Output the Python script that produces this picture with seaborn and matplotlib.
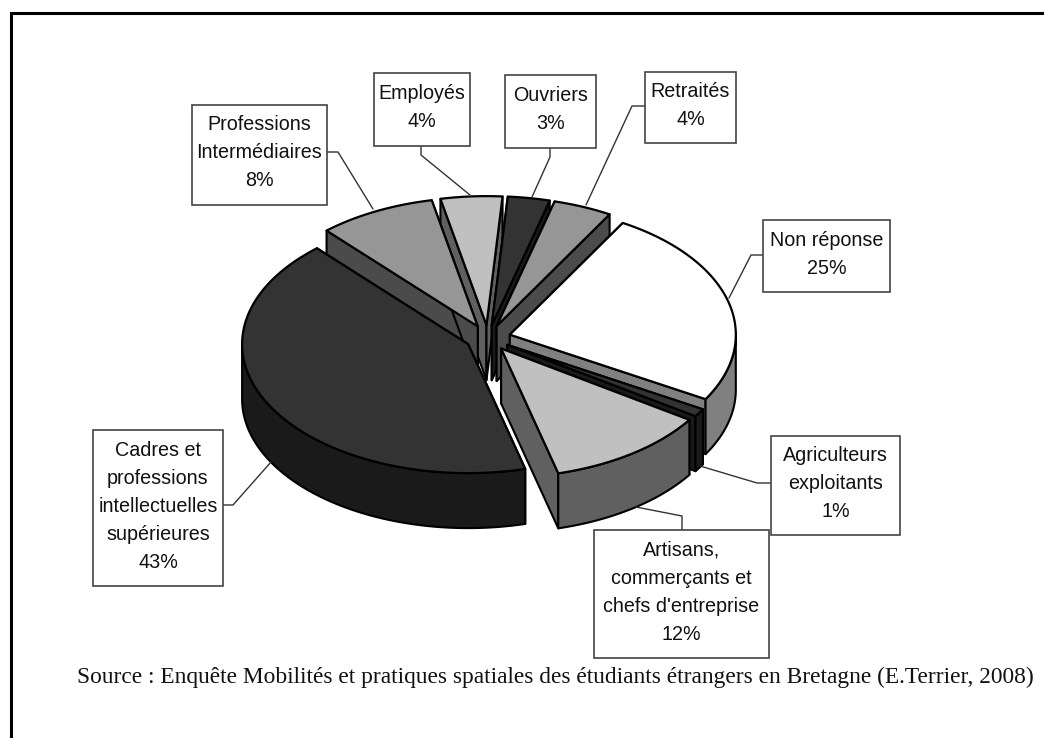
import numpy as np
import matplotlib
matplotlib.use("Agg")
import matplotlib.pyplot as plt
from matplotlib.patches import Polygon, Rectangle
import seaborn as sns

# --- data ---
categories = ["Non réponse", "Agriculteurs\nexploitants", "Artisans,\ncommerçants et\nchefs d'entreprise",
              "Cadres et\nprofessions\nintellectuelles\nsupérieures", "Professions\nIntermédiaires",
              "Employés", "Ouvriers", "Retraités"]
shares = [25.0, 1.0, 11.6, 42.4, 8.4, 4.4, 3.0, 4.2]
pct_labels = ["25%", "1%", "12%", "43%", "8%", "4%", "3%", "4%"]
top_greys = ["#ffffff", "#333333", "#c0c0c0", "#333333", "#969696", "#c0c0c0", "#333333", "#969696"]
source = "Source : Enquête Mobilités et pratiques spatiales des étudiants étrangers en Bretagne (E.Terrier, 2008)"

# --- layout (pixels) ---
CX, CY, RX, RY, DEPTH, EXPLODE, START = 488, 338, 226, 129, 55, 0.10, 30.0
boxes = [(763, 220, 890, 292), (771, 436, 900, 535), (594, 530, 769, 658), (93, 430, 223, 586),
         (192, 105, 327, 205), (374, 73, 470, 146), (505, 75, 596, 148), (645, 72, 736, 143)]
leaders = [[(763, 255), (751, 255), (729, 298)], [(771, 483), (757, 483), (700, 466)],
           [(682, 530), (682, 516), (636, 507)], [(223, 505), (233, 505), (271, 462)],
           [(327, 152), (338, 152), (373, 209)], [(421, 146), (421, 155), (470, 195)],
           [(550, 148), (550, 157), (532, 197)], [(645, 106), (632, 106), (586, 205)]]

sns.set_theme(style="white")
plt.rcParams["font.family"] = ["Liberation Sans", "DejaVu Sans"]
fig = plt.figure(figsize=(10.44, 7.38), dpi=100, facecolor="white")
ax = fig.add_axes([0, 0, 1, 1])
ax.set_xlim(0, 1044)
ax.set_ylim(738, 0)
ax.axis("off")
sns.despine(ax=ax, left=True, bottom=True)

ax.plot([11, 11, 1044], [738, 13, 13], color="black", lw=2.2, solid_joinstyle="miter", zorder=1)


def halve(hexcol):
    r, g, b = matplotlib.colors.to_rgb(hexcol)
    return (r * 0.5, g * 0.5, b * 0.5)


def rim(ax0, ay0, t):
    return ax0 + RX * np.sin(t), ay0 - RY * np.cos(t)


edges = np.radians(START + np.cumsum([0] + shares) * 3.6)
wedges = []
for i in range(len(shares)):
    t0, t1 = edges[i], edges[i + 1]
    mid = (t0 + t1) / 2
    wedges.append((np.cos(mid), i, t0, t1, mid))

z = 3
for _, i, t0, t1, mid in sorted(wedges, key=lambda w: -w[0]):
    apx = CX + EXPLODE * RX * np.sin(mid)
    apy = CY - EXPLODE * RY * np.cos(mid)
    ts = np.linspace(t0, t1, 80)
    xs, ys = rim(apx, apy, ts)
    top = top_greys[i]
    side = halve(top_greys[i])
    kw = dict(edgecolor="black", lw=1.5, joinstyle="round", facecolor=side)
    for t in (t0, t1):
        ex, ey = rim(apx, apy, t)
        ax.add_patch(Polygon([(apx, apy), (ex, ey), (ex, ey + DEPTH), (apx, apy + DEPTH)], zorder=z, **kw))
        z += 1
    # outer rim, only the part turned towards the viewer
    mask = np.cos(ts) <= 0.02
    if mask.any():
        rx_, ry_ = xs[mask], ys[mask]
        ax.add_patch(Polygon(np.r_[np.c_[rx_, ry_], np.c_[rx_, ry_ + DEPTH][::-1]], zorder=z, **kw))
        z += 1
    ax.add_patch(Polygon(np.r_[[(apx, apy)], np.c_[xs, ys]], facecolor=top, edgecolor="black",
                         lw=1.6, joinstyle="round", zorder=z))
    z += 1

for i, (x0, y0, x1, y1) in enumerate(boxes):
    pts = np.array(leaders[i])
    ax.plot(pts[:, 0], pts[:, 1], color="#333333", lw=1.0, zorder=200)
    ax.add_patch(Rectangle((x0, y0), x1 - x0, y1 - y0, facecolor="white", edgecolor="#444444", lw=1.2, zorder=201))
    ax.text((x0 + x1) / 2, (y0 + y1) / 2 - 2, categories[i] + "\n" + pct_labels[i], ha="center", va="center",
            fontsize=14.2, linespacing=1.6, color="#111111", zorder=202)

ax.text(555, 677, source, ha="center", va="center", fontsize=16.8, color="#111111",
        family=["Liberation Serif", "DejaVu Serif"], zorder=202)

fig.savefig("out.png", dpi=100)
